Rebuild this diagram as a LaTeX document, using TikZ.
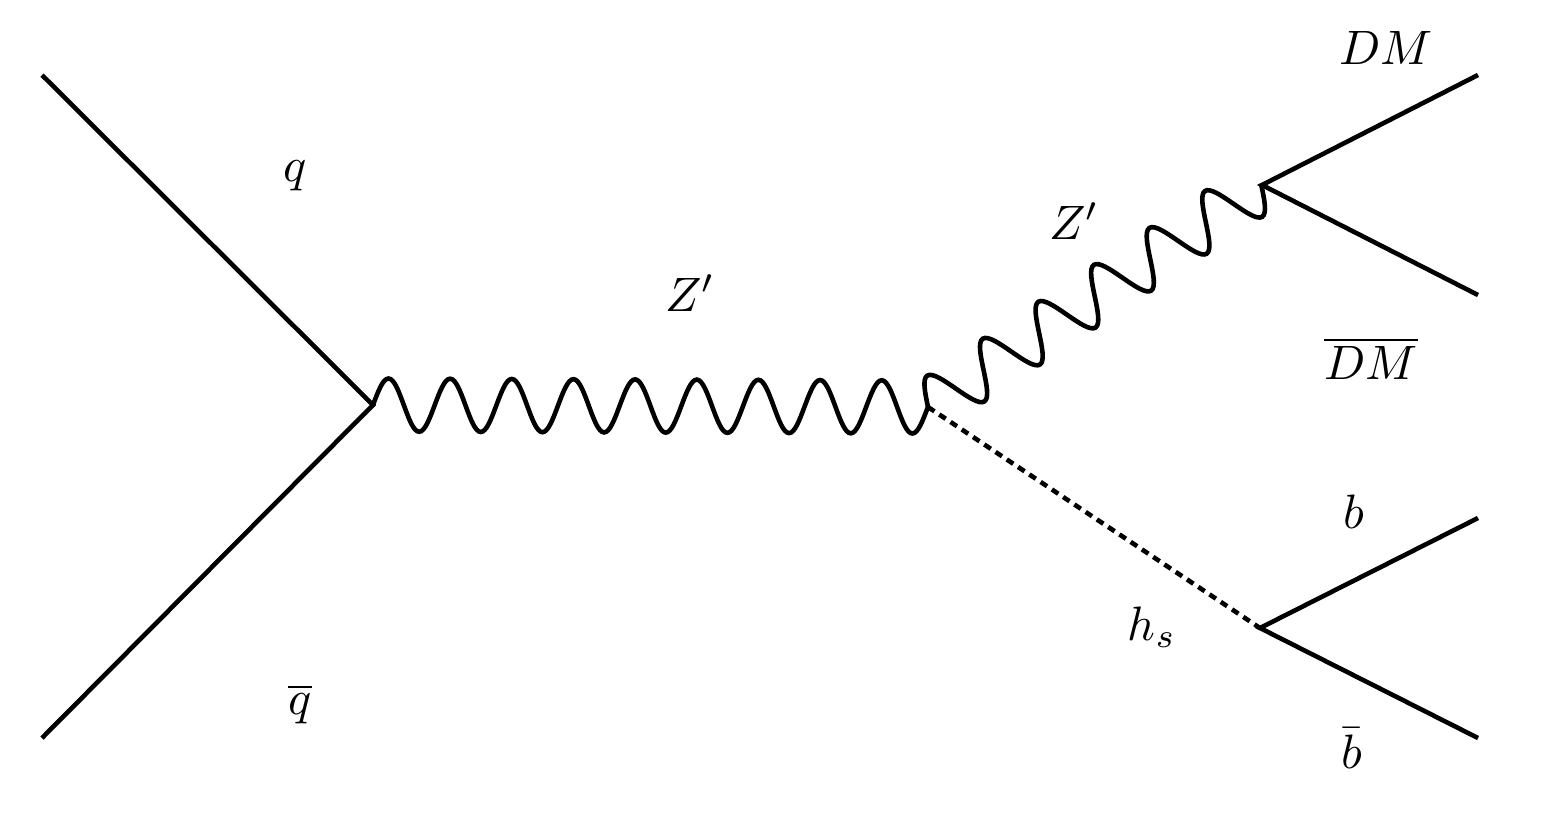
\documentclass[tikz,border=0pt]{standalone}
\usetikzlibrary{decorations.pathmorphing}

% whole sine periods between the two ends of a segment
\pgfdeclaredecoration{boson sines}{initial}
{
  \state{initial}[width=+0pt, next state=sine,
    persistent precomputation={\pgfmathsetlengthmacro\bosonseg{\pgfdecoratedinputsegmentlength/round(\pgfdecoratedinputsegmentlength/\pgfdecorationsegmentlength)-0.002pt}}]{}
  \state{sine}[width=\bosonseg]{
    \pgfpathsine{\pgfpoint{0.25*\bosonseg}{\pgfdecorationsegmentamplitude}}
    \pgfpathcosine{\pgfpoint{0.25*\bosonseg}{-\pgfdecorationsegmentamplitude}}
    \pgfpathsine{\pgfpoint{0.25*\bosonseg}{-\pgfdecorationsegmentamplitude}}
    \pgfpathcosine{\pgfpoint{0.25*\bosonseg}{\pgfdecorationsegmentamplitude}}
  }
  \state{final}{\pgfpathlineto{\pgfpointdecoratedpathlast}}
}

\begin{document}
\begin{tikzpicture}[x=0.207pt, y=-0.207pt,
fermion/.style={line width=0.95pt},
photon/.style={decorate, decoration={boson sines, amplitude=5.5pt, segment length=#1}, line width=0.95pt},
scalar/.style={dash pattern=on 1.6pt off 1.2pt, line width=0.95pt},
particle/.style={inner sep=0pt},
]
\useasboundingbox (0,0) rectangle (1546,812);

%Vertices
\coordinate (q_in) at (42,75);
\coordinate (qbar_in) at (42,738);
\coordinate (v_prod) at (373,405);
\coordinate (v_rad) at (928,407);
\coordinate (v_dm) at (1262,185);
\coordinate (v_b) at (1260,628);
\coordinate (dm_out) at (1478,75);
\coordinate (dmbar_out) at (1478,295);
\coordinate (b_out) at (1478,518);
\coordinate (bbar_out) at (1478,738);

%Labels
\node[particle] (q_label) at (295,176) {$q$};
\node[particle] (qbar_label) at (300,704) {$\overline{q}$};
\node[particle] (zprime_label) at (690,293) {$Z'$};
\node[particle] (zprime_dm_label) at (1074,221) {$Z'$};
\node[particle] (dm_label) at (1386,48) {$DM$};
\node[particle] (dmbar_label) at (1371,358) {$\overline{DM}$};
\node[particle] (b_label) at (1354,512) {$b$};
\node[particle] (bbar_label) at (1352,748) {$\bar{b}$};
\node[particle] (hs_label) at (1152,627) {$h_s$};

%Lines
\draw[fermion] (q_in) -- (v_prod) -- (qbar_in);
\draw[photon=12.7pt] (v_prod) -- (v_rad);
\draw[photon=13.8pt] (v_rad) -- (v_dm);
\draw[scalar] (v_rad) -- (v_b);
\draw[fermion] (dm_out) -- (v_dm) -- (dmbar_out);
\draw[fermion] (b_out) -- (v_b) -- (bbar_out);

\end{tikzpicture}
\end{document}
